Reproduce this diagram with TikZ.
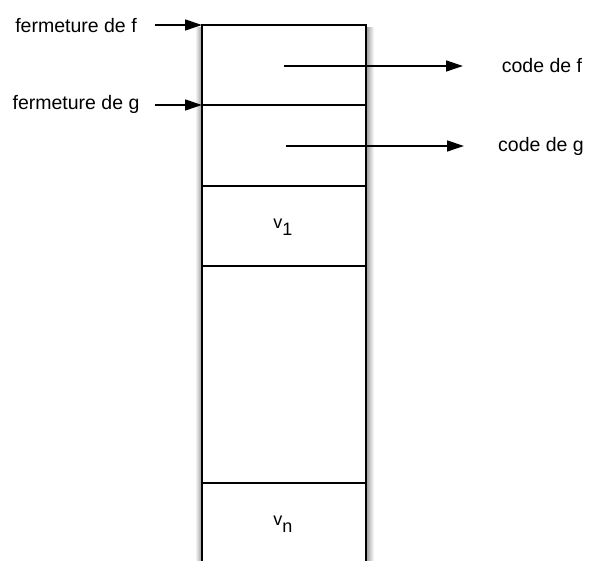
\documentclass[tikz,border=0pt]{standalone}
\usepackage{fontspec}
\setmainfont{Liberation Sans}
\usetikzlibrary{arrows.meta}
\begin{document}
\begin{tikzpicture}[x=1pt,y=-1pt,
  lbl/.style={font=\fontsize{19.5}{22}\selectfont, inner sep=0pt},
  cellline/.style={line width=1.5pt},
  ptr/.style={line width=1.3pt, -{Triangle[length=17pt,width=11pt]}},
  vlab/.style={font=\fontsize{18}{20}\selectfont, inner sep=0pt}]
\useasboundingbox (0,0) rectangle (589,561);
% shadows
\shade[left color=white, right color=black!40] (195,28) rectangle (202,561);
\shade[left color=black!40, right color=white] (366,28) rectangle (374,561);
\fill[white] (202,24) rectangle (366,561);
% column
\coordinate (tl) at (202,25);
\coordinate (tr) at (366,25);
\coordinate (bl) at (202,561);
\coordinate (br) at (366,561);
\draw[cellline] (bl) -- (tl) -- (tr) -- (br);
\coordinate (gl) at (202,105);
\coordinate (gr) at (366,105);
\draw[cellline] (gl) -- (gr);
\draw[cellline] (202,186) -- (366,186);
\draw[cellline] (202,266) -- (366,266);
\draw[line width=2pt] (202,483) -- (366,483);
% labels left
\node[lbl] (ff) at (76,26) {fermeture de f};
\node[lbl] (fg) at (76,104) {fermeture de g};
\draw[ptr] (155,25) -- (tl);
\draw[ptr] (155,105) -- (gl);
% code arrows
\node[lbl] (cf) at (542,66) {code de f};
\node[lbl] (cg) at (541,146) {code de g};
\coordinate (sf) at (284,66);
\coordinate (sg) at (286,146);
\coordinate (ef) at (463,66);
\coordinate (eg) at (464,146);
\draw[ptr] (sf) -- (ef);
\draw[ptr] (sg) -- (eg);
% values
\node[vlab] (v1) at (283,227) {v\raisebox{-7pt}{1}};
\node[vlab] (vn) at (283,524) {v\raisebox{-7pt}{n}};
\end{tikzpicture}
\end{document}
